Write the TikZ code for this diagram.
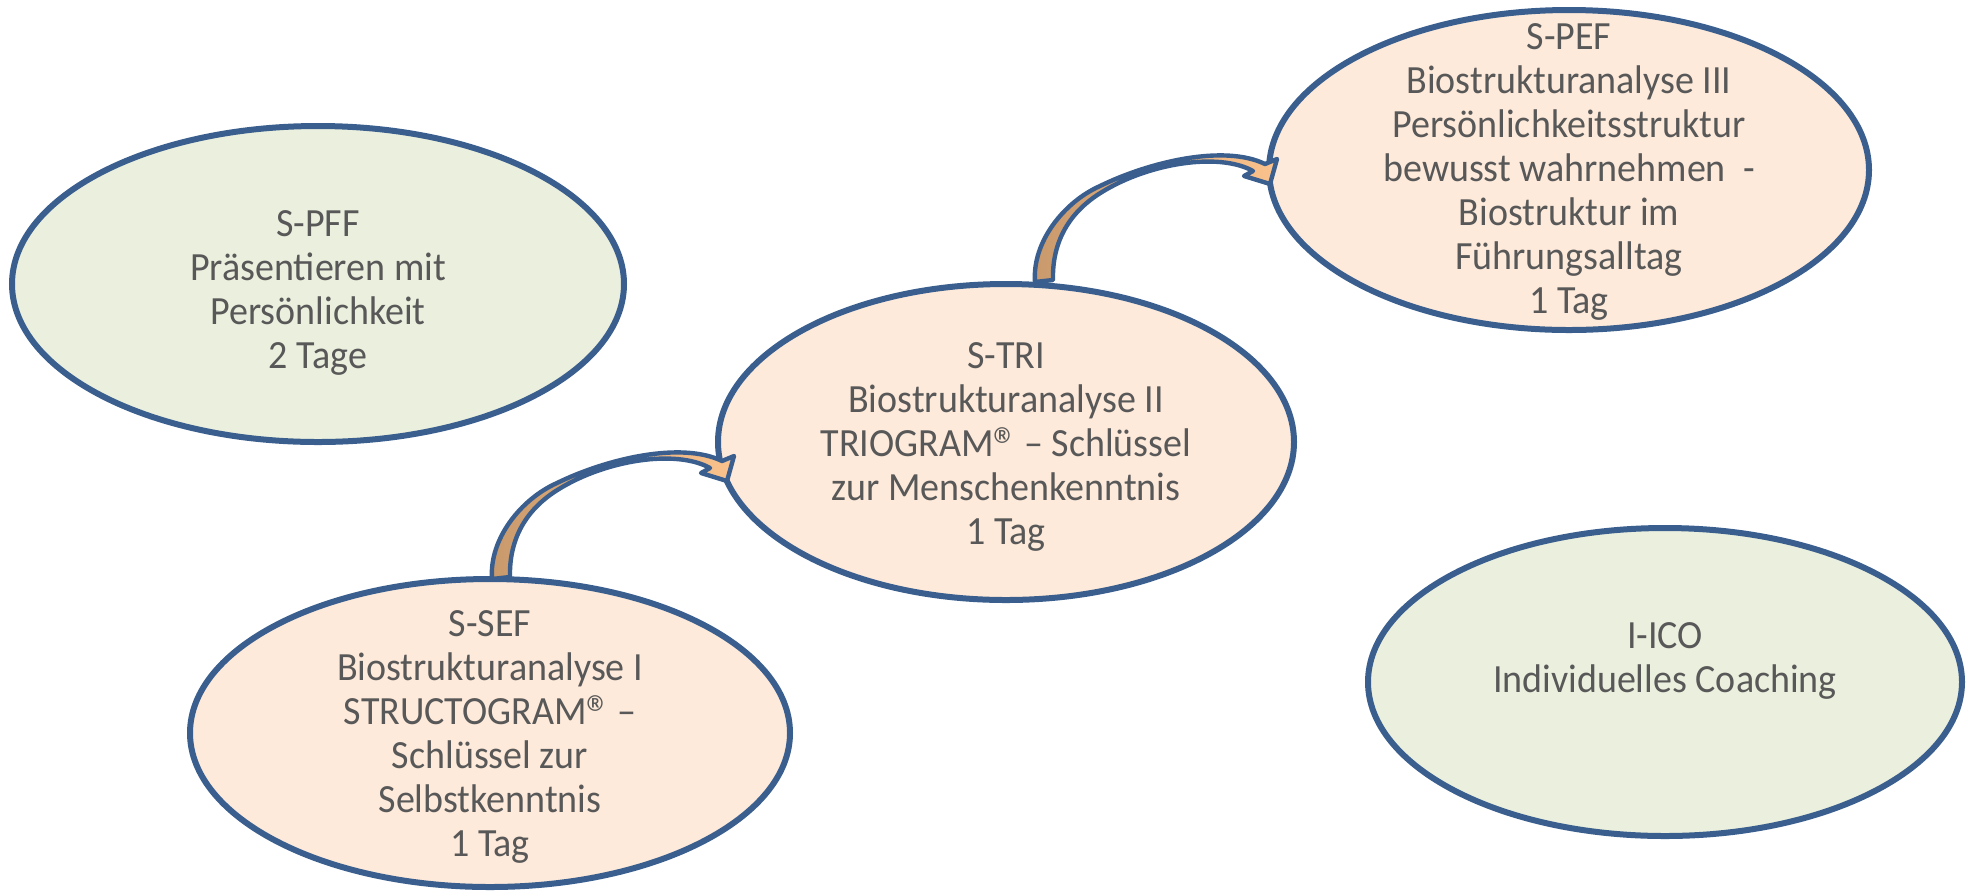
\documentclass[tikz,border=0pt]{standalone}
\usepackage{fontspec}
\setmainfont{Carlito}[FakeStretch=0.95]
\usetikzlibrary{shapes.geometric,calc}
\definecolor{rimblue}{HTML}{3A5F8E}
\definecolor{peach}{HTML}{FDEADB}
\definecolor{sage}{HTML}{EBF0DE}
\definecolor{textgrey}{HTML}{585858}
\definecolor{bendlow}{HTML}{C8996C}
\definecolor{bendhigh}{HTML}{FBC28C}
\newcommand{\regmark}{\smash{\raisebox{-0.35ex}{\fontsize{26}{26}\selectfont ®}}\kern-1.5pt}

\tikzset{
	oval/.style={ellipse, draw=rimblue, line width=3pt, inner sep=0pt},
	kurs/.style={align=center, text=textgrey, font=\fontsize{20}{22}\selectfont},
	bendarrow/.pic={
		\draw[draw=rimblue, line width=2.2pt, line join=round, left color=bendlow, right color=bendhigh]
			(-9,0) .. controls (-12,-40) and (20,-80) .. (56,-96)
			.. controls (105,-120) and (180,-138) .. (221,-118)
			-- (233,-123) -- (226,-98) -- (200,-106) -- (209,-111)
			.. controls (175,-130) and (105,-119) .. (58,-90)
			.. controls (25,-70) and (8,-40) .. (9,-2) -- cycle;
	}
}

\begin{document}
\begin{tikzpicture}[x=0.5pt, y=-0.5pt]
	\useasboundingbox (0,0) rectangle (1966,891);
	\node[oval, fill=sage, minimum width=306pt, minimum height=158pt] (pff) at (318,284) {};
	\node[oval, fill=peach, minimum width=288pt, minimum height=158pt] (tri) at (1006,442) {};
	\node[oval, fill=peach, minimum width=300pt, minimum height=160pt] (pef) at (1569,170) {};
	\node[oval, fill=peach, minimum width=300pt, minimum height=154pt] (sef) at (490,733) {};
	\node[oval, fill=sage, minimum width=297pt, minimum height=154pt] (ico) at (1665,682) {};

	\node[kurs] (pff text) at ($(pff)+(0,9)$) {S-PFF\\Präsentieren mit\\Persönlichkeit\\2 Tage};
	\node[kurs] (tri text) at ($(tri)+(0,5)$) {S-TRI\\Biostrukturanalyse II\\TRIOGRAM\regmark{} – Schlüssel\\zur Menschenkenntnis\\1 Tag};
	\node[kurs] (pef text) at ($(pef)+(0,2)$) {S-PEF\\Biostrukturanalyse III\\Persönlichkeitsstruktur\\bewusst wahrnehmen\ \ -\\Biostruktur im\\Führungsalltag\\1 Tag};
	\node[kurs] (sef text) at ($(sef)+(0,4)$) {S-SEF\\Biostrukturanalyse I\\STRUCTOGRAM\regmark{} –\\Schlüssel zur\\Selbstkenntnis\\1 Tag};
	\node[kurs] (ico text) at ($(ico)+(0,-21)$) {I-ICO\\Individuelles Coaching};

	\pic at ($(sef.north)+(11,3)$) {bendarrow};
	\pic at ($(tri.north)+(38,1)$) {bendarrow};
\end{tikzpicture}
\end{document}
